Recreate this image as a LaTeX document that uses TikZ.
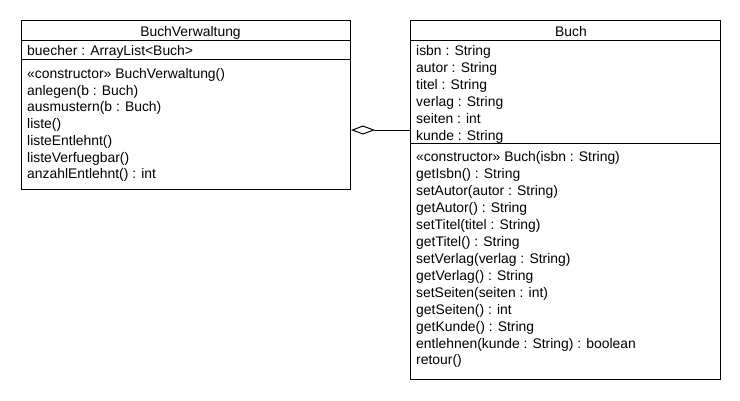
\documentclass[tikz,border=0pt]{standalone}
\usepackage{fontspec}
\setmainfont{Liberation Sans}
\usetikzlibrary{arrows.meta}
\begin{document}
\begin{tikzpicture}[x=1pt,y=-1pt,
  classbox/.style={draw, line width=1pt, inner sep=0pt, anchor=north west},
  umltext/.style={anchor=base west, inner sep=0pt, font=\fontsize{13.9}{16.9}\selectfont},
  umltitle/.style={anchor=base, inner sep=0pt, font=\fontsize{13.9}{16.9}\selectfont},
  sepline/.style={line width=1pt},
  aggr/.style={line width=1pt, line join=miter, -{Diamond[open,length=24pt,width=9pt,line width=1pt]}}]
\useasboundingbox (0,0) rectangle (740,400);
% class boxes
\node[classbox, minimum width=329pt, minimum height=169pt] (bv) at (21,20) {};
\node[classbox, minimum width=310pt, minimum height=359pt] (buch) at (410,20) {};
% separators
\draw[sepline] (bv.west |- 0,40) -- (bv.east |- 0,40);
\draw[sepline] (bv.west |- 0,59) -- (bv.east |- 0,59);
\draw[sepline] (buch.west |- 0,40) -- (buch.east |- 0,40);
\draw[sepline] (buch.west |- 0,143.5) -- (buch.east |- 0,143.5);
% BuchVerwaltung
\node[umltitle] (bvtitle) at (190.5,36) {BuchVerwaltung};
\node[umltext] (bvattr) at (27,55.5) {buecher : ArrayList<Buch>};
\foreach \t [count=\i from 0] in {%
  «constructor» BuchVerwaltung(),
  anlegen(b : Buch),
  ausmustern(b : Buch),
  liste(),
  listeEntlehnt(),
  listeVerfuegbar(),
  anzahlEntlehnt() : int}
  \node[umltext] (bvm\i) at (27,78.3+16.75*\i) {\t};
% Buch
\node[umltitle] (buchtitle) at (571,36) {Buch};
\foreach \t [count=\i from 0] in {%
  isbn : String,
  autor : String,
  titel : String,
  verlag : String,
  seiten : int,
  kunde : String}
  \node[umltext] (ba\i) at (416,55.7+16.9*\i) {\t};
\foreach \t [count=\i from 0] in {%
  «constructor» Buch(isbn : String),
  getIsbn() : String,
  setAutor(autor : String),
  getAutor() : String,
  setTitel(titel : String),
  getTitel() : String,
  setVerlag(verlag : String),
  getVerlag() : String,
  setSeiten(seiten : int),
  getSeiten() : int,
  getKunde() : String,
  entlehnen(kunde : String) : boolean,
  retour()}
  \node[umltext] (bm\i) at (416,161.7+16.94*\i) {\t};
% aggregation
\coordinate (j) at (380,130);
\draw[aggr] (buch.west |- j) -- (bv.east |- j);
\end{tikzpicture}
\end{document}
